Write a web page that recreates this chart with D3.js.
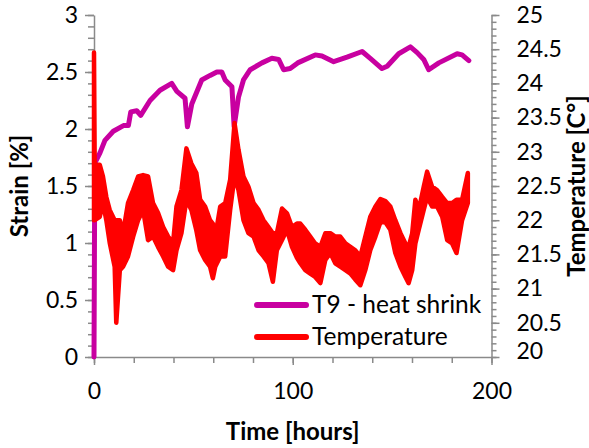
<!DOCTYPE html>
<html>
<head>
<meta charset="utf-8">
<script src="https://cdn.jsdelivr.net/npm/d3@7/dist/d3.min.js"></script>
<style>
  body { margin: 0; background: #fff; }
  svg { display: block; }
  text { font-family: Lato, "Open Sans", sans-serif; fill: #000; }
</style>
</head>
<body>
<svg id="chart" width="589" height="448"></svg>
<script>
// Strain of sample T9 (left axis, %)
const strainTime = [0, 0.4, 3, 5.5, 9.7, 14.8, 17.3, 18.5, 21.5, 23.5,
  28.2, 33.2, 39.1, 41.7, 45.8, 47, 49.2, 54.2, 58.4, 61.8,
  64.3, 66, 69.4, 70.5, 72.7, 75.2, 78.6, 84.5, 89.5, 92.9,
  95.4, 98.7, 102.5, 111.3, 114.7, 120.6, 127.3, 134.9, 139, 144.9,
  147.5, 153.3, 159.2, 162.6, 165.9, 168.4, 173.5, 182.7, 185.2, 188.6];
const strainValue = [0, 1.70, 1.79, 1.90, 1.98, 2.03, 2.03, 2.15, 2.16, 2.12,
  2.25, 2.34, 2.40, 2.33, 2.27, 2.02, 2.22, 2.43, 2.47, 2.50,
  2.50, 2.43, 2.37, 2.02, 2.28, 2.43, 2.52, 2.58, 2.62, 2.61,
  2.52, 2.53, 2.58, 2.65, 2.64, 2.59, 2.63, 2.68, 2.62, 2.53,
  2.55, 2.66, 2.72, 2.67, 2.61, 2.52, 2.58, 2.66, 2.65, 2.60];

// Temperature (right axis, °C): upper and lower bounds of the fluctuating reading
const tempTime = [0, 0.35, 2.9, 4.5, 6.2, 7.9, 10.4, 11.2, 13.0, 14.6,
  17.1, 19.7, 22.2, 24.7, 27.2, 29.7, 32.2, 34.8, 37.3, 39.8,
  41.5, 44.0, 46.5, 49.0, 51.5, 53.4, 55.9, 58.4, 59.8, 61.0,
  63.5, 66.0, 68.5, 70.7, 72.7, 75.2, 77.7, 80.3, 82.8, 85.3,
  87.8, 90.0, 92.0, 94.6, 97.1, 99.6, 102.1, 103.8, 106.3, 108.8,
  111.3, 113.9, 116.4, 118.9, 121.4, 123.9, 126.5, 129.0, 131.5, 134.0,
  136.5, 139.0, 141.6, 144.1, 146.6, 149.1, 151.6, 154.2, 156.7, 158.3,
  160.1, 161.7, 163.4, 165.9, 167.6, 170.1, 172.6, 175.2, 177.7, 180.2,
  182.4, 185.2, 188.1];
const tempHigh = [24.45, 22.81, 22.81, 22.64, 22.34, 22.15, 22.00, 22.00, 22.00, 21.81,
  22.25, 22.44, 22.64, 22.66, 22.64, 22.25, 22.11, 21.90, 21.76, 21.67,
  22.20, 22.44, 23.05, 22.83, 22.69, 22.30, 22.20, 22.00, 21.95, 21.76,
  22.20, 22.25, 22.59, 23.42, 23.03, 22.64, 22.49, 22.25, 22.15, 22.00,
  21.90, 21.81, 21.81, 22.17, 22.10, 21.90, 21.95, 21.95, 21.86, 21.76,
  21.66, 21.61, 21.81, 21.81, 21.76, 21.76, 21.66, 21.61, 21.56, 21.47,
  21.76, 22.05, 22.20, 22.31, 22.28, 22.20, 22.00, 21.81, 21.66, 21.61,
  21.81, 22.30, 22.15, 22.49, 22.71, 22.49, 22.44, 22.34, 22.25, 22.25,
  22.30, 22.30, 22.69];
const tempLow = [22.00, 22.00, 22.05, 22.25, 22.00, 21.67, 21.32, 20.50, 21.27, 21.32,
  21.47, 21.76, 22.00, 22.15, 21.71, 21.76, 21.61, 21.47, 21.32, 21.27,
  21.56, 21.81, 22.30, 22.15, 21.85, 21.56, 21.42, 21.32, 21.15, 21.32,
  21.47, 21.47, 22.15, 22.64, 22.44, 22.00, 21.81, 21.76, 21.56, 21.47,
  21.37, 21.10, 21.56, 21.71, 21.86, 21.61, 21.45, 21.37, 21.27, 21.22,
  21.17, 21.08, 21.42, 21.52, 21.37, 21.32, 21.27, 21.22, 21.13, 21.05,
  21.27, 21.56, 21.76, 21.97, 21.97, 21.86, 21.52, 21.32, 21.17, 21.08,
  21.27, 21.66, 21.86, 22.15, 22.34, 22.20, 22.20, 22.05, 21.71, 21.66,
  21.52, 22.00, 22.25];

// Axis ticks and labels
const timeMajorTicks = [0, 100, 200];
const timeMinorTicks = d3.range(0, 201, 20);
const strainMajorTicks = [0, 0.5, 1, 1.5, 2, 2.5, 3];
const strainMinorTicks = d3.range(0, 31).map(i => i / 10);
const tempMajorTicks = [20, 20.5, 21, 21.5, 22, 22.5, 23, 23.5, 24, 24.5, 25];
const tempMinorTicks = d3.range(0, 51).map(i => 20 + i / 10);
const seriesNames = ["T9 - heat shrink", "Temperature"];
const seriesColors = ["#C800A0", "#FF0000"];
const axisTitles = { x: "Time [hours]", left: "Strain [%]", right: "Temperature [C°]" };

const svg = d3.select("#chart");
const plot = { left: 94, right: 491.5, top: 15, bottom: 357 };
const axisColor = "#8a8a8a";
const tickFont = 23;

const x = d3.scaleLinear().domain([0, 200]).range([plot.left, plot.right]);
const yStrain = d3.scaleLinear().domain([0, 3]).range([plot.bottom, plot.top]);
const yTemp = d3.scaleLinear().domain([20, 25]).range([plot.bottom, plot.top]);

function styleAxis(g) {
  g.select(".domain").attr("stroke", axisColor).attr("stroke-width", 1.5);
  g.selectAll(".tick line").attr("stroke", axisColor).attr("stroke-width", 1.5);
  g.selectAll(".tick text").attr("font-size", tickFont).attr("fill", "#000")
    .style("font-family", "Lato, 'Open Sans', sans-serif");
  g.attr("font-family", null).attr("font-size", null);
}

// Minor ticks (no labels)
svg.append("g").attr("transform", `translate(${plot.left},0)`)
  .call(d3.axisLeft(yStrain).tickValues(strainMinorTicks).tickSize(6).tickSizeOuter(0).tickFormat(""))
  .call(g => { styleAxis(g); g.select(".domain").remove(); });
svg.append("g").attr("transform", `translate(${plot.right},0)`)
  .call(d3.axisRight(yTemp).tickValues(tempMinorTicks).tickSize(5).tickSizeOuter(0).tickFormat(""))
  .call(g => { styleAxis(g); g.select(".domain").remove(); });
svg.append("g").attr("transform", `translate(0,${plot.bottom})`)
  .call(d3.axisBottom(x).tickValues(timeMinorTicks).tickSize(6).tickSizeOuter(0).tickFormat(""))
  .call(g => { styleAxis(g); g.select(".domain").remove(); });

// Major ticks with labels
svg.append("g").attr("transform", `translate(${plot.left},0)`)
  .call(d3.axisLeft(yStrain).tickValues(strainMajorTicks).tickSize(9).tickSizeOuter(0).tickPadding(7)
    .tickFormat(d3.format("")))
  .call(styleAxis);
svg.append("g").attr("transform", `translate(${plot.right},0)`)
  .call(d3.axisRight(yTemp).tickValues(tempMajorTicks).tickSize(8).tickSizeOuter(0).tickPadding(17)
    .tickFormat(d3.format("")))
  .call(g => {
    styleAxis(g);
    g.selectAll(".tick text").filter(d => d === 20).attr("dy", "0.05em");
  });
svg.append("g").attr("transform", `translate(0,${plot.bottom})`)
  .call(d3.axisBottom(x).tickValues(timeMajorTicks).tickSize(8).tickSizeOuter(0).tickPadding(18)
    .tickFormat(d3.format("")))
  .call(styleAxis);

// Strain line
const strainData = strainTime.map((t, i) => [t, strainValue[i]]);
svg.append("path")
  .datum(strainData)
  .attr("fill", "none")
  .attr("stroke", seriesColors[0])
  .attr("stroke-width", 5)
  .attr("stroke-linejoin", "round")
  .attr("stroke-linecap", "round")
  .attr("d", d3.line().x(d => x(d[0])).y(d => yStrain(d[1])));

// Temperature band
const tempData = tempTime.map((t, i) => ({ t, hi: tempHigh[i], lo: tempLow[i] }));
svg.append("path")
  .datum(tempData)
  .attr("fill", seriesColors[1])
  .attr("stroke", seriesColors[1])
  .attr("stroke-width", 4.5)
  .attr("stroke-linejoin", "round")
  .attr("d", d3.area().x(d => x(d.t)).y0(d => yTemp(d.lo)).y1(d => yTemp(d.hi)));

// Legend
const legend = svg.append("g").attr("transform", "translate(255,305)");
seriesNames.forEach((name, i) => {
  const row = legend.append("g").attr("transform", `translate(0,${i * 32})`);
  row.append("line").attr("x1", 2).attr("x2", 51).attr("y1", 0).attr("y2", 0)
    .attr("stroke", seriesColors[i]).attr("stroke-width", 6).attr("stroke-linecap", "round");
  row.append("text").attr("x", 57).attr("y", 8).attr("font-size", 24.5).text(name);
});

// Axis titles
svg.append("text")
  .attr("x", (plot.left + plot.right) / 2).attr("y", 440)
  .attr("text-anchor", "middle").attr("font-size", 24).attr("font-weight", "bold")
  .text(axisTitles.x);
svg.append("text")
  .attr("transform", `translate(28,${(plot.top + plot.bottom) / 2}) rotate(-90)`)
  .attr("text-anchor", "middle").attr("font-size", 24).attr("font-weight", "bold")
  .text(axisTitles.left);
svg.append("text")
  .attr("transform", `translate(585,${(plot.top + plot.bottom) / 2}) rotate(-90)`)
  .attr("text-anchor", "middle").attr("font-size", 24).attr("font-weight", "bold")
  .text(axisTitles.right);
</script>
</body>
</html>
